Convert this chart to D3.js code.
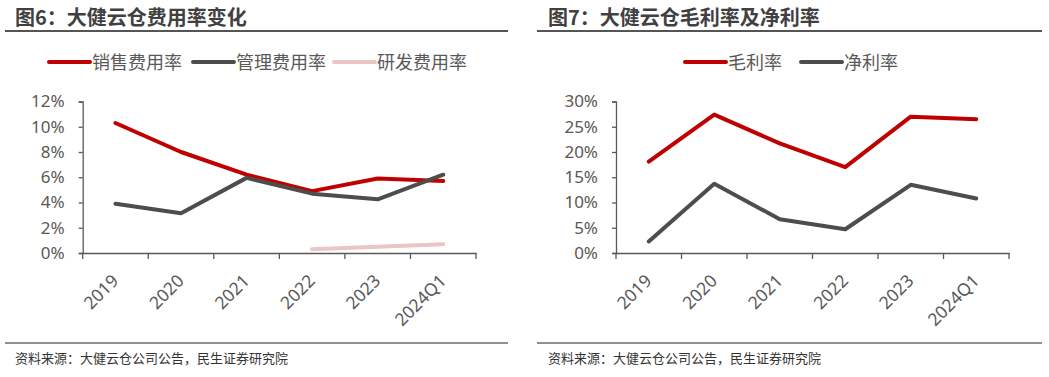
<!DOCTYPE html>
<html>
<head>
<meta charset="utf-8">
<script src="https://cdn.jsdelivr.net/npm/d3@7"></script>
<style>
  body { margin: 0; background: #fff; }
  svg { display: block; font-family: "Noto Sans CJK SC", "Noto Sans", sans-serif; }
</style>
</head>
<body>
<svg id="chart" width="1049" height="377"></svg>
<script>
const years = ["2019", "2020", "2021", "2022", "2023", "2024Q1"];

// 图6 费用率 (%)
const salesRate = [10.3, 8.0, 6.2, 4.9, 5.9, 5.7];
const adminRate = [3.9, 3.15, 5.95, 4.7, 4.25, 6.2];
const rdRate    = [null, null, null, 0.3, 0.5, 0.7];
const leftTicks = [0, 2, 4, 6, 8, 10, 12];

// 图7 毛利率 / 净利率 (%)
const grossMargin = [18.1, 27.4, 21.7, 17.0, 27.0, 26.5];
const netMargin   = [2.3, 13.7, 6.7, 4.7, 13.5, 10.8];
const rightTicks  = [0, 5, 10, 15, 20, 25, 30];

const RED = "#c00000", GRAY = "#4d4d4d", PINK = "#ebc5c5";
const TEXT = "#595959";

const svg = d3.select("#chart");

function panel(opts) {
  const g = svg.append("g");

  // title + rules
  g.append("text")
    .attr("x", opts.titleX).attr("y", 25)
    .attr("font-size", 20).attr("font-weight", "bold")
    .attr("fill", "#404040")
    .text(opts.title);
  g.append("line")
    .attr("x1", opts.ruleX0).attr("x2", opts.ruleX1)
    .attr("y1", 31).attr("y2", 31)
    .attr("stroke", "#555").attr("stroke-width", 2);
  g.append("line")
    .attr("x1", opts.ruleX0).attr("x2", opts.ruleX1)
    .attr("y1", 343).attr("y2", 343)
    .attr("stroke", "#222").attr("stroke-width", 1);
  g.append("text")
    .attr("x", opts.titleX).attr("y", 363)
    .attr("font-size", 13).attr("fill", "#333")
    .text("资料来源：大健云仓公司公告，民生证券研究院");

  // legend
  opts.series.forEach((s, i) => {
    const lx = opts.legendX[i];
    g.append("line")
      .attr("x1", lx).attr("x2", lx + 41)
      .attr("y1", 62).attr("y2", 62)
      .attr("stroke", s.color).attr("stroke-width", 4)
      .attr("stroke-linecap", "round");
    g.append("text")
      .attr("x", lx + 43).attr("y", 68.5)
      .attr("font-size", 18).attr("fill", TEXT)
      .text(s.name);
  });

  const x = d3.scaleBand().domain(years).range([opts.x0, opts.x1]);
  const y = d3.scaleLinear().domain([0, d3.max(opts.ticks)]).range([253, 101.5]);

  // y axis
  const ya = g.append("g")
    .attr("transform", `translate(${opts.x0},0)`)
    .call(d3.axisLeft(y).tickValues(opts.ticks).tickSize(4).tickPadding(14)
      .tickFormat(d => d + "%"));
  ya.select(".domain").attr("stroke", TEXT).attr("stroke-width", 1.3);
  ya.selectAll(".tick line").attr("stroke", TEXT).attr("stroke-width", 1.3);
  ya.selectAll(".tick text")
    .attr("font-size", 17).attr("fill", TEXT)
    .attr("font-family", "'Noto Sans', sans-serif");

  // x axis
  const xa = g.append("g")
    .attr("transform", "translate(0,253)")
    .call(d3.axisBottom(x).tickSize(0).tickPadding(0));
  xa.select(".domain").attr("stroke", TEXT).attr("stroke-width", 1.3);
  xa.selectAll(".tick line").remove();
  // category boundary ticks
  const bounds = years.map(d => x(d)).concat([opts.x1]);
  xa.selectAll(".bound").data(bounds).join("line")
    .attr("class", "bound")
    .attr("x1", d => d).attr("x2", d => d)
    .attr("y1", 0).attr("y2", 6)
    .attr("stroke", TEXT).attr("stroke-width", 1.3);
  xa.selectAll(".tick text")
    .attr("font-size", 17.5).attr("fill", TEXT)
    .attr("font-family", "'Noto Sans', sans-serif")
    .attr("text-anchor", "end")
    .attr("dy", 0)
    .attr("transform", "translate(4,29) rotate(-45)");

  // lines
  const line = d3.line()
    .defined(d => d != null)
    .x((d, i) => x(years[i]) + x.bandwidth() / 2)
    .y(d => y(d));
  opts.series.forEach(s => {
    g.append("path")
      .datum(s.values)
      .attr("fill", "none")
      .attr("stroke", s.color)
      .attr("stroke-width", 4)
      .attr("stroke-linejoin", "round")
      .attr("stroke-linecap", "round")
      .attr("d", line);
  });
}

panel({
  title: "图6：大健云仓费用率变化",
  titleX: 15, ruleX0: 5, ruleX1: 508,
  x0: 82.7, x1: 476,
  ticks: leftTicks,
  legendX: [49, 193, 334],
  series: [
    { name: "销售费用率", color: RED, values: salesRate },
    { name: "管理费用率", color: GRAY, values: adminRate },
    { name: "研发费用率", color: PINK, values: rdRate }
  ]
});

panel({
  title: "图7：大健云仓毛利率及净利率",
  titleX: 548, ruleX0: 537, ruleX1: 1042,
  x0: 616, x1: 1009,
  ticks: rightTicks,
  legendX: [685, 801],
  series: [
    { name: "毛利率", color: RED, values: grossMargin },
    { name: "净利率", color: GRAY, values: netMargin }
  ]
});
</script>
</body>
</html>
